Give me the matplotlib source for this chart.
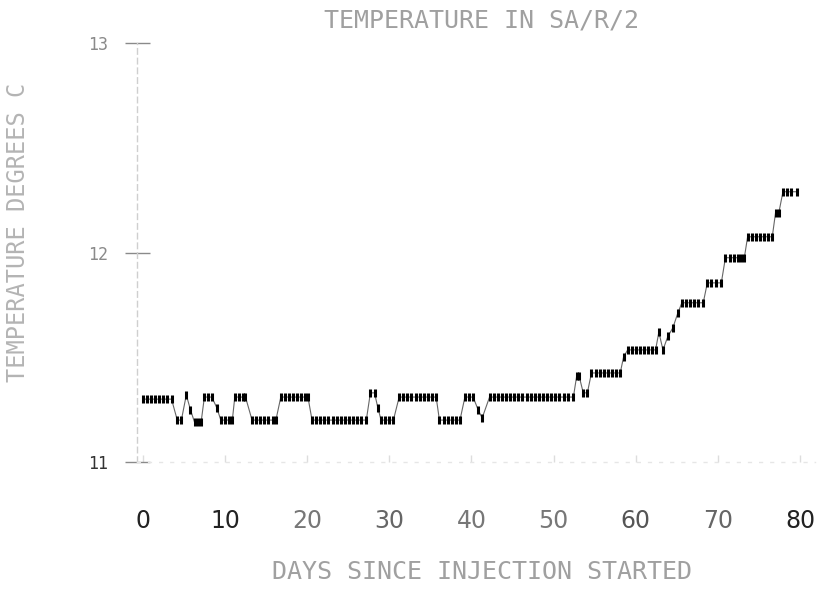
import matplotlib
matplotlib.use("Agg")
import matplotlib.pyplot as plt

# ---- data (days since injection, temperature) ----
days = [0.0, 0.5, 1.0, 1.5, 2.0, 2.5, 3.0, 3.5,
        4.2, 4.7, 5.3, 5.8, 6.3, 6.7, 7.1, 7.5, 8.0, 8.4, 9.0,
        9.5, 10.0, 10.5, 10.9, 11.2, 11.7, 12.2, 12.5,
        13.3, 13.8, 14.3, 14.8, 15.3, 15.8, 16.2,
        16.8, 17.3, 17.8, 18.3, 18.8, 19.3, 19.8, 20.1,
        20.6, 21.1, 21.6, 22.1, 22.6, 23.1, 23.6, 24.1, 24.6, 25.1, 25.6, 26.1, 26.6, 27.2,
        27.7, 28.2, 28.6, 29.0, 29.5, 30.0, 30.5,
        31.2, 31.7, 32.2, 32.7, 33.2, 33.7, 34.2, 34.7, 35.2, 35.7,
        36.1, 36.6, 37.1, 37.6, 38.1, 38.6,
        39.2, 39.7, 40.2, 40.8, 41.3,
        42.2, 42.7, 43.2, 43.7, 44.2, 44.7, 45.2, 45.7, 46.2, 46.7, 47.2, 47.7,
        48.2, 48.7, 49.2, 49.7, 50.2, 50.7, 51.2, 51.7, 52.4,
        52.8, 53.1, 53.6, 54.1,
        54.6, 55.1, 55.6, 56.1, 56.6, 57.1, 57.6, 58.1,
        58.5, 59.0, 59.5, 60.0, 60.5, 61.0, 61.5, 62.0, 62.4,
        62.8, 63.3, 63.9, 64.5, 65.1,
        65.6, 66.1, 66.6, 67.1, 67.6, 68.2,
        68.7, 69.2, 69.8, 70.4,
        70.9, 71.4, 71.9, 72.4, 72.8, 73.2,
        73.6, 74.1, 74.6, 75.1, 75.6, 76.1, 76.6,
        77.0, 77.4, 77.9, 78.4, 78.9, 79.6]
temps = [11.30, 11.30, 11.30, 11.30, 11.30, 11.30, 11.30, 11.30,
         11.20, 11.20, 11.32, 11.25, 11.19, 11.19, 11.19, 11.31, 11.31, 11.31, 11.26,
         11.20, 11.20, 11.20, 11.20, 11.31, 11.31, 11.31, 11.31,
         11.20, 11.20, 11.20, 11.20, 11.20, 11.20, 11.20,
         11.31, 11.31, 11.31, 11.31, 11.31, 11.31, 11.31, 11.31,
         11.20, 11.20, 11.20, 11.20, 11.20, 11.20, 11.20, 11.20, 11.20, 11.20, 11.20, 11.20, 11.20, 11.20,
         11.33, 11.33, 11.26, 11.20, 11.20, 11.20, 11.20,
         11.31, 11.31, 11.31, 11.31, 11.31, 11.31, 11.31, 11.31, 11.31, 11.31,
         11.20, 11.20, 11.20, 11.20, 11.20, 11.20,
         11.31, 11.31, 11.31, 11.25, 11.21,
         11.31, 11.31, 11.31, 11.31, 11.31, 11.31, 11.31, 11.31, 11.31, 11.31, 11.31, 11.31,
         11.31, 11.31, 11.31, 11.31, 11.31, 11.31, 11.31, 11.31, 11.31,
         11.41, 11.41, 11.33, 11.33,
         11.425, 11.425, 11.425, 11.425, 11.425, 11.425, 11.425, 11.425,
         11.50, 11.535, 11.535, 11.535, 11.535, 11.535, 11.535, 11.535, 11.535,
         11.62, 11.535, 11.60, 11.64, 11.71,
         11.76, 11.76, 11.76, 11.76, 11.76, 11.76,
         11.855, 11.855, 11.855, 11.855,
         11.975, 11.975, 11.975, 11.975, 11.975, 11.975,
         12.075, 12.075, 12.075, 12.075, 12.075, 12.075, 12.075,
         12.19, 12.19, 12.29, 12.29, 12.29, 12.29]

x_ticks = [0, 10, 20, 30, 40, 50, 60, 70, 80]
x_tick_labels = ["0", "10", "20", "30", "40", "50", "60", "70", "80"]
y_ticks = [11, 12, 13]
y_tick_labels = ["11", "12", "13"]

title = "TEMPERATURE IN SA/R/2"
xlabel = "DAYS SINCE INJECTION STARTED"
ylabel = "TEMPERATURE DEGREES C"

# ---- figure ----
W, H = 831, 590
fig = plt.figure(figsize=(W / 100, H / 100), dpi=100)
ax = fig.add_axes([137 / W, (H - 462) / H, (815 - 137) / W, (462 - 43) / H])

ax.plot(days, temps, color="#666666", lw=0.8, zorder=3)
ax.plot(days, temps, color="black", lw=0, marker="|", ms=6, mew=2.2, zorder=4)

ax.set_xlim(-0.7, 81.8)
ax.set_ylim(11, 13)

for s in ["top", "right"]:
    ax.spines[s].set_visible(False)
ax.spines["left"].set_color("#cfcfcf")
ax.spines["left"].set_linestyle((0, (4, 3)))
ax.spines["left"].set_linewidth(1.0)
ax.spines["bottom"].set_color("#e6e6e6")
ax.spines["bottom"].set_linestyle((0, (2, 6)))
ax.spines["bottom"].set_linewidth(1.0)

ax.set_yticks(y_ticks)
ax.set_yticklabels(y_tick_labels, fontfamily="DejaVu Sans Mono", fontsize=12)
ax.tick_params(axis="y", direction="inout", length=18, width=1.0,
               color="#8a8a8a", pad=12)
for lab, c in zip(ax.get_yticklabels(), ["#333333", "#8a8a8a", "#8a8a8a"]):
    lab.set_color(c)

ax.set_xticks(x_ticks)
ax.set_xticklabels(x_tick_labels, fontfamily="DejaVu Sans", fontsize=17)
ax.tick_params(axis="x", direction="in", length=5, width=1.0,
               color="#dddddd", pad=34)
label_colors = ["#222222", "#222222", "#777777", "#666666", "#777777",
                "#777777", "#555555", "#666666", "#222222"]
for lab, c in zip(ax.get_xticklabels(), label_colors):
    lab.set_color(c)

fig.text(482 / W, 1 - 20 / H, title, ha="center", va="center",
         fontfamily="DejaVu Sans Mono", fontsize=18, color="#a0a0a0")
fig.text(482 / W, 1 - 572 / H, xlabel, ha="center", va="center",
         fontfamily="DejaVu Sans Mono", fontsize=18, color="#a0a0a0")
fig.text(18 / W, 1 - 232 / H, ylabel, ha="center", va="center", rotation=90,
         fontfamily="DejaVu Sans Mono", fontsize=17, color="#b4b4b4")

fig.savefig("out.png", dpi=100, facecolor="white")
